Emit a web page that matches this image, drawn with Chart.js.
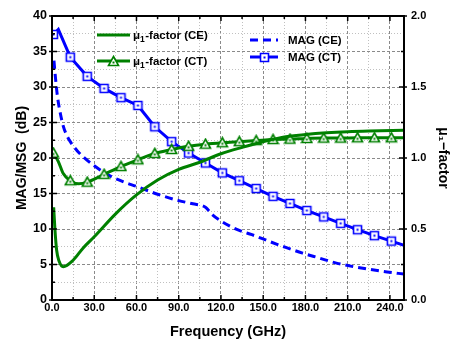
<!DOCTYPE html>
<html><head><meta charset="utf-8">
<script src="https://cdn.jsdelivr.net/npm/chart.js@4.4.1/dist/chart.umd.min.js"></script>
<style>html,body{margin:0;padding:0;background:#fff}#wrap{width:450px;height:344px}</style>
</head><body><div id="wrap"><canvas id="c" width="450" height="344"></canvas></div>
<script>
// ---- data ----
const markerFreq = [1,13,25,37,49,61,73,85,97,109,121,133,145,157,169,181,193,205,217,229,241];

const magCtFreq = [1,4.5,13,25,37,49,61,73,85,97,109,121,133,145,157,169,181,193,205,217,229,241,250];
const magCt = [37.4,38.1,34.2,31.5,29.8,28.5,27.4,24.4,22.3,20.7,19.3,17.9,16.8,15.7,14.6,13.6,12.6,11.7,10.8,9.9,9.06,8.3,7.7];

const magCeFreq = [1.4,2,3,4,6,8,10,13,18,22,30,40,50,60,75,90,100,109,114,121,133,142,155,166,178,190,202,214,226,238,250];
const magCe = [33.7,32.3,30.2,28.5,26.2,24.5,23.4,22.3,21.0,20.2,18.9,17.6,16.7,16.0,14.9,14.0,13.55,13.05,12.0,11.0,9.8,9.2,8.2,7.4,6.6,5.9,5.2,4.7,4.3,3.95,3.65];

const muCtFreq = [1,4.5,8,13,19,25,37,49,61,73,85,97,109,121,133,145,157,169,181,193,205,217,229,241,250];
const muCt = [1.035,0.975,0.89,0.84,0.818,0.83,0.885,0.94,0.9875,1.0325,1.06,1.0825,1.0975,1.1075,1.115,1.1225,1.13,1.1325,1.1375,1.14,1.14,1.1425,1.1425,1.1425,1.143];

const muCeFreq = [1.2,2,3.3,5,8,15,22,30,45,60,75,90,105,120,135,150,165,180,195,210,225,250];
const muCe = [0.653,0.51,0.35,0.275,0.235,0.28,0.365,0.445,0.605,0.74,0.845,0.92,0.97,1.03,1.075,1.115,1.148,1.165,1.177,1.185,1.19,1.195];

const xTickLabels = ['0.0','30.0','60.0','90.0','120.0','150.0','180.0','210.0','240.0'];
const seriesNames = ['μ1-factor (CE)','μ1-factor (CT)','MAG (CE)','MAG (CT)'];

// ---- styling ----
const FONT = "'Liberation Sans', Arial, Helvetica, sans-serif";
const BLUE = '#0000ff', GREEN = '#008000';
const toXY = (xs, ys) => xs.map((x, i) => ({x, y: ys[i]}));
const near = (a, b) => Math.abs(a - b) < 1e-6;

function markerCanvas(type, color) {
  const c = document.createElement('canvas');
  c.width = 13; c.height = 13;
  const g = c.getContext('2d');
  g.lineWidth = 1.6; g.strokeStyle = color; g.fillStyle = '#fff';
  g.beginPath();
  if (type === 'square') { g.rect(2.5, 2.5, 8, 8); }
  else { g.moveTo(6.5, 1.5); g.lineTo(11.5, 10.5); g.lineTo(1.5, 10.5); g.closePath(); }
  g.fill(); g.stroke();
  g.fillStyle = color;
  if (type === 'square') g.fillRect(5.5, 5.5, 2, 2); else g.fillRect(5.5, 6.5, 2, 2);
  return c;
}
const sqImg = markerCanvas('square', BLUE);
const triImg = markerCanvas('tri', GREEN);
const markerRadius = ctx => (ctx.raw && markerFreq.some(f => near(f, ctx.raw.x))) ? 5 : 0;

function drawLabel(ctx, x, y, text) {
  // render "μ1" with subscript 1
  ctx.textBaseline = 'middle'; ctx.textAlign = 'left'; ctx.fillStyle = '#000';
  const m = text.match(/^μ1(.*)$/);
  if (m) {
    ctx.font = 'bold 11.5px ' + FONT;
    ctx.fillText('μ', x, y); x += ctx.measureText('μ').width;
    ctx.font = 'bold 8.5px ' + FONT;
    ctx.fillText('1', x, y + 3.5); x += ctx.measureText('1').width + 0.5;
    ctx.font = 'bold 11.5px ' + FONT;
    ctx.fillText(m[1], x, y);
  } else {
    ctx.font = 'bold 11.5px ' + FONT;
    ctx.fillText(text, x, y);
  }
}

const framePlugin = {
  id: 'frame',
  afterDatasetsDraw(chart) {
    const ctx = chart.ctx;
    const {left, right, top, bottom} = chart.chartArea;
    const xs = chart.scales.x, ys = chart.scales.y, y2 = chart.scales.y2;
    ctx.save();
    ctx.strokeStyle = '#000'; ctx.lineWidth = 1.5;
    const seg = (a, b, c, d) => { ctx.beginPath(); ctx.moveTo(a, b); ctx.lineTo(c, d); ctx.stroke(); };
    xs.ticks.forEach(t => {
      const px = xs.getPixelForValue(t.value);
      if (px <= left + 1 || px >= right - 1) return;
      const len = (t.value % 30 === 0) ? 5 : 3;
      seg(px, bottom, px, bottom - len);
      seg(px, top, px, top + len);
    });
    ys.ticks.forEach(t => {
      const py = ys.getPixelForValue(t.value);
      const major = t.value % 5 === 0;
      seg(left - (major ? 3 : 0), py, left + (major ? 5 : 3), py);
    });
    y2.ticks.forEach(t => {
      const py = y2.getPixelForValue(t.value);
      const major = near(t.value * 2, Math.round(t.value * 2));
      seg(right - (major ? 5 : 3), py, right + (major ? 3 : 0), py);
    });
    ctx.lineWidth = 2;
    ctx.strokeRect(left, top, right - left, bottom - top);

    // legend
    const ds = chart.data.datasets;
    const entries = [
      {i: 0, x0: 97, x1: 130, y: 35, tx: 133},
      {i: 1, x0: 97, x1: 130, y: 61, tx: 133},
      {i: 2, x0: 250, x1: 278, y: 40, tx: 288},
      {i: 3, x0: 250, x1: 278, y: 57, tx: 288}
    ];
    entries.forEach(e => {
      const d = ds[e.i];
      ctx.save();
      ctx.strokeStyle = d.borderColor; ctx.lineWidth = d.borderWidth;
      ctx.setLineDash(d.borderDash || []);
      seg(e.x0, e.y, e.x1, e.y);
      ctx.restore();
      if (d.pointStyle && typeof d.pointStyle === 'object') {
        const img = d.pointStyle;
        ctx.drawImage(img, Math.round((e.x0 + e.x1) / 2 - img.width / 2), Math.round(e.y - img.height / 2));
      }
      drawLabel(ctx, e.tx, e.y + 1, seriesNames[e.i]);
    });
    ctx.restore();
  }
};

const majorX = v => v % 30 === 0;
const majorY = v => v % 5 === 0;

new Chart(document.getElementById('c'), {
  type: 'line',
  data: {
    datasets: [
      {label: seriesNames[0], data: toXY(muCeFreq, muCe), yAxisID: 'y2', borderColor: GREEN, borderWidth: 3,
       pointRadius: 0, cubicInterpolationMode: 'monotone', fill: false},
      {label: seriesNames[1], data: toXY(muCtFreq, muCt), yAxisID: 'y2', borderColor: GREEN, borderWidth: 3,
       pointStyle: triImg, pointRadius: markerRadius, cubicInterpolationMode: 'monotone', fill: false},
      {label: seriesNames[2], data: toXY(magCeFreq, magCe), yAxisID: 'y', borderColor: BLUE, borderWidth: 3,
       borderDash: [8, 5], pointRadius: 0, cubicInterpolationMode: 'monotone', fill: false},
      {label: seriesNames[3], data: toXY(magCtFreq, magCt), yAxisID: 'y', borderColor: BLUE, borderWidth: 3,
       pointStyle: sqImg, pointRadius: markerRadius, tension: 0, fill: false}
    ]
  },
  options: {
    responsive: false, animation: false, devicePixelRatio: 1,
    layout: {padding: {top: 16, left: 0, right: 0, bottom: 0}},
    plugins: {legend: {display: false}, tooltip: {enabled: false}},
    scales: {
      x: {
        type: 'linear', position: 'bottom', min: 0, max: 250,
        ticks: {stepSize: 15, autoSkip: false, includeBounds: false, maxRotation: 0, minRotation: 0, padding: 1,
                color: '#000', font: {family: FONT, size: 11, weight: 'bold'},
                callback: v => majorX(v) ? xTickLabels[v / 30] : ''},
        grid: {drawTicks: false, lineWidth: 1, color: c => majorX(c.tick.value) ? '#8a8a8a' : '#c0c0c0'},
        border: {display: false, dash: c => majorX(c.tick.value) ? [3, 2] : [1, 2]},
        title: {display: true, text: 'Frequency (GHz)', color: '#000',
                font: {family: FONT, size: 14.5, weight: 'bold'}, padding: {top: 0, bottom: 3}},
        afterFit: s => { s.height = 44; }
      },
      y: {
        type: 'linear', position: 'left', min: 0, max: 40,
        ticks: {stepSize: 2.5, autoSkip: false, padding: 5, color: '#000',
                font: {family: FONT, size: 12.5, weight: 'bold'},
                callback: v => majorY(v) ? String(v) : ''},
        grid: {drawTicks: false, lineWidth: 1, color: c => majorY(c.tick.value) ? '#8a8a8a' : '#c0c0c0'},
        border: {display: false, dash: c => majorY(c.tick.value) ? [3, 2] : [1, 2]},
        title: {display: true, text: 'MAG/MSG  (dB)', color: '#000',
                font: {family: FONT, size: 14, weight: 'bold'}, padding: {top: 14, bottom: 0}},
        afterFit: s => { s.width = 52; }
      },
      y2: {
        type: 'linear', position: 'right', min: 0, max: 2,
        ticks: {stepSize: 0.25, autoSkip: false, padding: 7, color: '#000',
                font: {family: FONT, size: 11, weight: 'bold'},
                callback: v => near(v * 2, Math.round(v * 2)) ? v.toFixed(1) : ''},
        grid: {display: false, drawTicks: false},
        border: {display: false},
        title: {display: true, text: 'μ₁−factor', color: '#000',
                font: {family: FONT, size: 14, weight: 'bold', lineHeight: 1.0}, padding: {top: 0, bottom: 0}},
        afterFit: s => { s.width = 46; }
      }
    }
  },
  plugins: [framePlugin]
});
</script>
</body></html>
